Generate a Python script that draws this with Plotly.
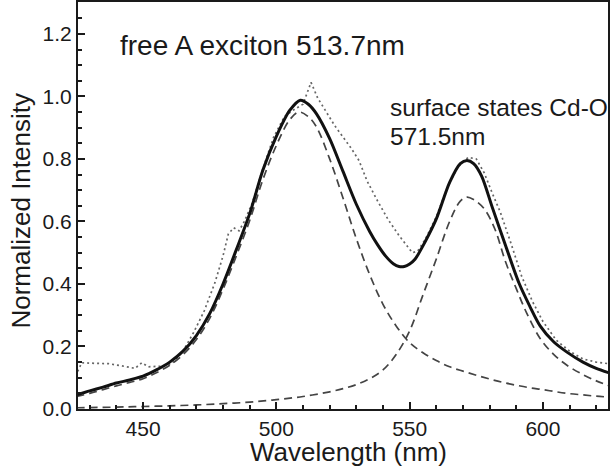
import plotly.graph_objects as go

# ---- data ----
fit_x = [425, 430, 435, 440, 445, 450, 455, 460, 465, 470, 475, 480, 485, 490, 495, 500,
         505, 509, 512, 515, 520, 525, 530, 535, 538, 541, 544, 546, 548, 550, 552, 556,
         560, 565, 569, 571.5, 574, 577, 581, 586, 591, 595, 599, 604, 609, 615, 620, 625]
fit_y = [0.045, 0.058, 0.070, 0.083, 0.093, 0.105, 0.125, 0.150, 0.185, 0.235, 0.305, 0.400,
         0.510, 0.625, 0.765, 0.872, 0.955, 0.988, 0.975, 0.945, 0.865, 0.760, 0.655, 0.568,
         0.525, 0.489, 0.464, 0.456, 0.456, 0.464, 0.479, 0.538, 0.608, 0.725, 0.785, 0.795,
         0.785, 0.745, 0.645, 0.522, 0.403, 0.330, 0.265, 0.215, 0.182, 0.150, 0.130, 0.115]

peak1_x = [425, 430, 435, 440, 445, 450, 455, 460, 465, 470, 475, 480, 485, 490, 495, 500,
           505, 508.5, 512, 515, 520, 525, 530, 535, 540, 545, 550, 555, 560, 565, 570, 575,
           580, 585, 590, 595, 600, 605, 610, 615, 620, 625]
peak1_y = [0.040, 0.050, 0.062, 0.074, 0.085, 0.097, 0.116, 0.140, 0.174, 0.222, 0.290, 0.383,
           0.490, 0.603, 0.735, 0.843, 0.925, 0.950, 0.935, 0.903, 0.800, 0.675, 0.545, 0.430,
           0.335, 0.265, 0.212, 0.180, 0.155, 0.135, 0.121, 0.108, 0.096, 0.085, 0.076, 0.068,
           0.062, 0.055, 0.049, 0.045, 0.041, 0.038]

peak2_x = [425, 440, 450, 460, 470, 480, 490, 500, 510, 520, 525, 530, 535, 540, 545, 550,
           555, 560, 565, 569, 571.5, 574, 578, 582, 586, 590, 594, 599, 604, 609, 615, 620, 625]
peak2_y = [0.004, 0.006, 0.008, 0.010, 0.013, 0.017, 0.022, 0.030, 0.040, 0.055, 0.065, 0.078,
           0.097, 0.125, 0.175, 0.250, 0.365, 0.480, 0.600, 0.665, 0.678, 0.670, 0.640, 0.575,
           0.470, 0.385, 0.305, 0.225, 0.175, 0.140, 0.110, 0.090, 0.074]

data_x = [425.5, 427, 432, 437, 442, 447, 449.5, 452, 457, 461, 465, 469, 473, 477, 480, 482,
          484, 486, 488, 491, 495, 499, 503, 507, 510, 513, 515.5, 519, 522, 525, 528, 531,
          534, 538, 542, 546, 549, 551, 553, 556, 560, 564, 568, 572, 575, 578, 581, 584,
          588, 592, 596, 600, 605, 610, 615, 620, 624.5]
data_y = [0.120, 0.148, 0.146, 0.145, 0.138, 0.130, 0.148, 0.135, 0.137, 0.146, 0.185, 0.245,
          0.315, 0.405, 0.490, 0.560, 0.580, 0.570, 0.600, 0.660, 0.770, 0.870, 0.935, 0.960,
          0.975, 1.045, 0.995, 0.945, 0.905, 0.870, 0.835, 0.795, 0.730, 0.665, 0.605, 0.555,
          0.520, 0.500, 0.505, 0.545, 0.615, 0.705, 0.775, 0.805, 0.800, 0.755, 0.690, 0.630,
          0.530, 0.425, 0.345, 0.280, 0.220, 0.185, 0.160, 0.150, 0.145]

x_tickvals = [450, 500, 550, 600]
y_tickvals = [0.0, 0.2, 0.4, 0.6, 0.8, 1.0, 1.2]
y_ticktext = ["0.0", "0.2", "0.4", "0.6", "0.8", "1.0", "1.2"]

FONT = "Liberation Sans, Arial, sans-serif"
INK = "#1a1a1a"

fig = go.Figure()
fig.add_trace(go.Scatter(x=data_x, y=data_y, mode="lines",
                         line=dict(color="#666666", width=1.7, dash="2px,3px"),
                         showlegend=False))
fig.add_trace(go.Scatter(x=peak1_x, y=peak1_y, mode="lines", line_shape="spline",
                         line=dict(color="#444444", width=1.7, dash="8px,5px"),
                         showlegend=False))
fig.add_trace(go.Scatter(x=peak2_x, y=peak2_y, mode="lines", line_shape="spline",
                         line=dict(color="#444444", width=1.7, dash="8px,5px"),
                         showlegend=False))
fig.add_trace(go.Scatter(x=fit_x, y=fit_y, mode="lines", line_shape="spline",
                         line=dict(color="#111111", width=3, smoothing=0.8),
                         showlegend=False))

fig.add_annotation(x=440.6, y=1.162, xref="x", yref="y", text="free A exciton 513.7nm",
                   showarrow=False, xanchor="left", yanchor="middle",
                   font=dict(family=FONT, size=28, color=INK))
fig.add_annotation(x=541.8, y=0.965, xref="x", yref="y", text="surface states Cd-O",
                   showarrow=False, xanchor="left", yanchor="middle",
                   font=dict(family=FONT, size=24.5, color=INK))
fig.add_annotation(x=541.8, y=0.872, xref="x", yref="y", text="571.5nm",
                   showarrow=False, xanchor="left", yanchor="middle",
                   font=dict(family=FONT, size=24.5, color=INK))
# axis titles placed as annotations to match the reference's positions
fig.add_annotation(x=-0.108, y=0.634, xref="paper", yref="y", text="Normalized Intensity",
                   showarrow=False, xanchor="center", yanchor="middle", textangle=-90,
                   font=dict(family=FONT, size=26, color=INK))
fig.add_annotation(x=0.51, y=-0.064, xref="paper", yref="paper", text="Wavelength (nm)",
                   showarrow=False, xanchor="center", yanchor="top",
                   font=dict(family=FONT, size=26, color=INK))

fig.update_layout(
    width=613, height=467,
    margin=dict(l=78, r=5, t=2, b=58),
    paper_bgcolor="white", plot_bgcolor="white",
    font=dict(family=FONT, color=INK),
    xaxis=dict(
        range=[425.6, 624.4], showgrid=False, zeroline=False,
        showline=True, linecolor=INK, linewidth=2, mirror=True,
        ticks="inside", ticklen=7, tickwidth=1.5, tickcolor=INK,
        tickvals=x_tickvals, tickfont=dict(size=21, family=FONT, color=INK),
        minor=dict(dtick=10, tick0=0, ticks="inside", ticklen=4, tickwidth=1.5, tickcolor=INK),
        automargin=False,
    ),
    yaxis=dict(
        range=[0, 1.302], showgrid=False, zeroline=False,
        showline=True, linecolor=INK, linewidth=2, mirror=True,
        ticks="inside", ticklen=7, tickwidth=1.5, tickcolor=INK,
        tickvals=y_tickvals, ticktext=y_ticktext,
        tickfont=dict(size=21, family=FONT, color=INK),
        minor=dict(dtick=0.05, tick0=0, ticks="inside", ticklen=4, tickwidth=1.5, tickcolor=INK),
        automargin=False,
    ),
)

fig.write_html("out.html")
